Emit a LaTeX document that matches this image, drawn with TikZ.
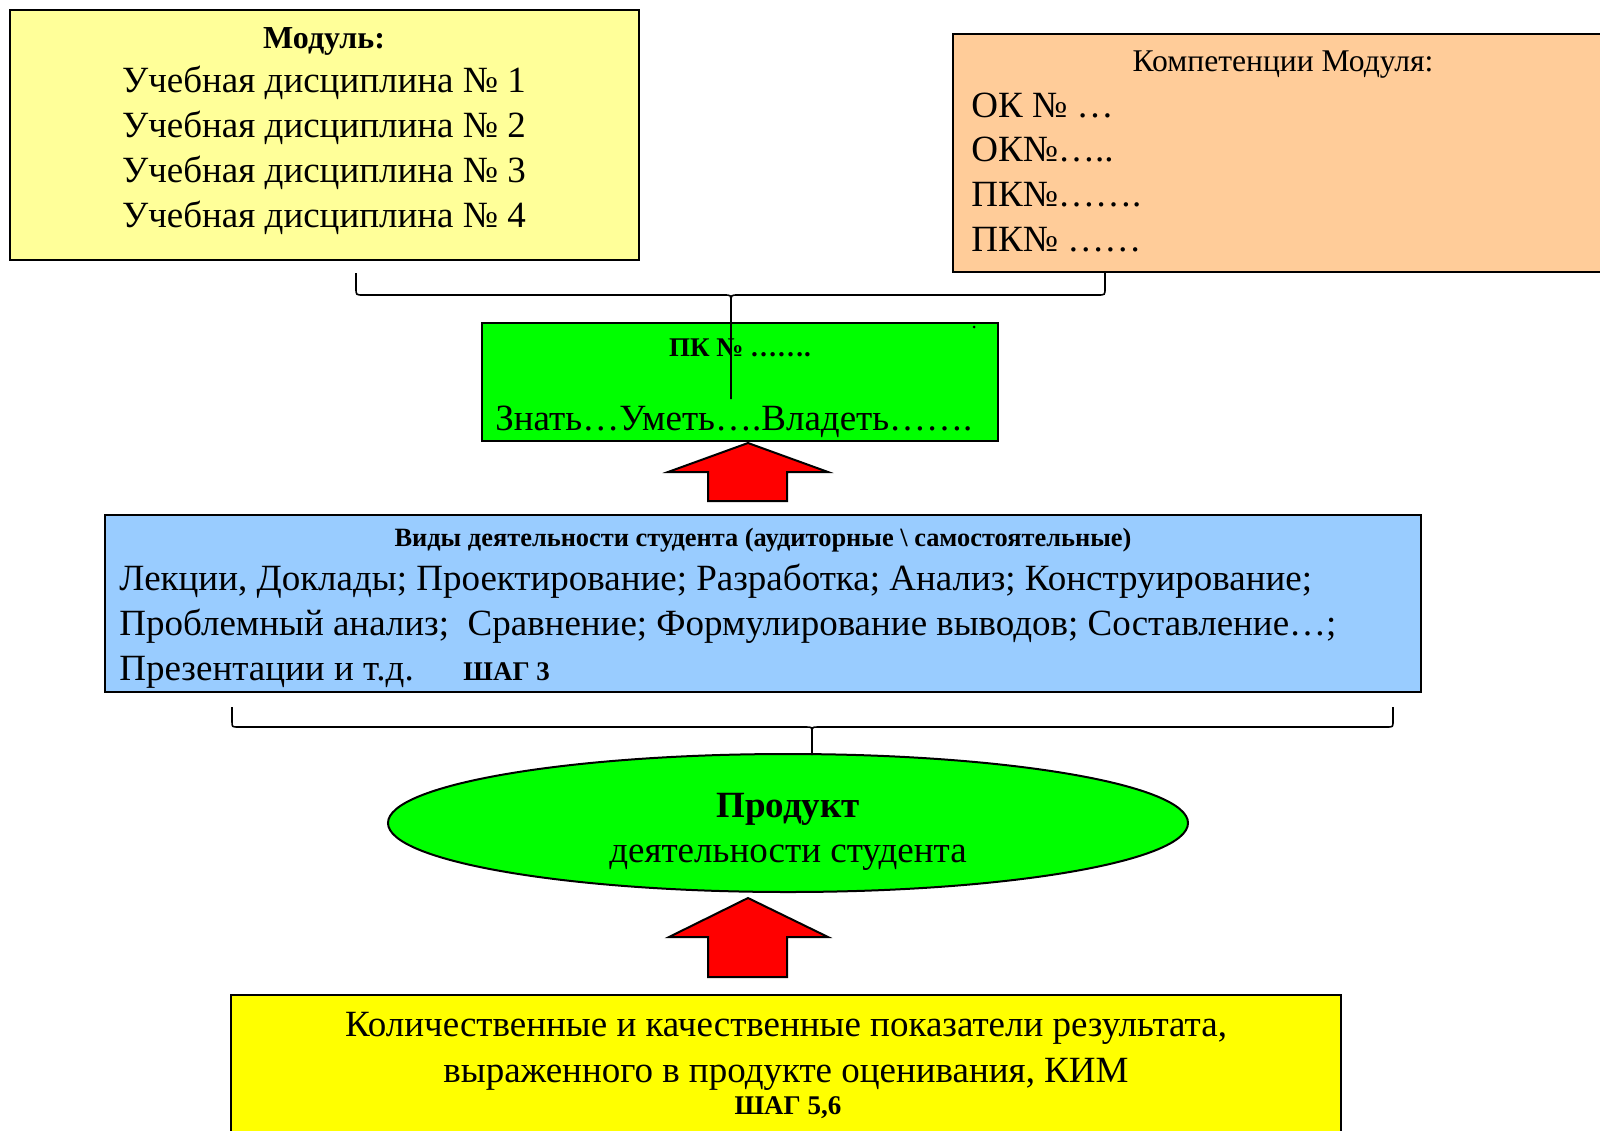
\documentclass[tikz,border=0pt]{standalone}
\usepackage{fontspec}
\setmainfont{Liberation Serif}
\usetikzlibrary{shapes.geometric}

\definecolor{modfill}{HTML}{FFFF99}
\definecolor{kompfill}{HTML}{FFCC99}
\definecolor{pkgreen}{HTML}{00FF00}
\definecolor{vidyblue}{HTML}{99CCFF}
\definecolor{kimyellow}{HTML}{FFFF00}

\begin{document}
\begin{tikzpicture}[x=0.5pt, y=-0.5pt,
  box/.style={draw, line width=1pt, inner sep=0pt, outer sep=0pt, anchor=north west},
  txt/.style={inner sep=0pt, anchor=base, font=\fontsize{18.5}{22}\selectfont},
  ttl/.style={txt, font=\bfseries\fontsize{16}{19}\selectfont},
  sml/.style={txt, font=\bfseries\fontsize{13.5}{16}\selectfont},
  klammer/.style={draw, line width=0.8pt},
  pfeil/.style={draw, line width=1pt, fill=red, line join=miter}]

\useasboundingbox (0,0) rectangle (1600,1130);
\clip (0,0) rectangle (1600,1130);

% boxes
\node[box, fill=modfill, minimum width=314.5pt, minimum height=125pt] (modul) at (10,10) {};
\node[box, fill=kompfill, minimum width=328.5pt, minimum height=119pt] (komp) at (953,34) {};
\node[box, fill=pkgreen, minimum width=258pt, minimum height=59pt] (pk) at (482,323) {};
\node[box, fill=vidyblue, minimum width=658pt, minimum height=88.5pt] (vidy) at (105,515) {};
\node[draw, line width=1pt, ellipse, fill=pkgreen, inner sep=0pt,
  minimum width=400pt, minimum height=69pt] (produkt) at (788,823) {};
\node[box, fill=kimyellow, minimum width=555pt, minimum height=75pt] (kim) at (231,995) {};

% Modul
\node[ttl] (modtitle) at (324,48) {Модуль:};
\foreach \n in {1,...,4}
  \node[txt] (ud\n) at (324,47+45*\n) {Учебная дисциплина № \n};

% Kompetenzen
\node[txt, font=\fontsize{15.8}{18}\selectfont] (komptitle) at (1283,71) {Компетенции Модуля:};
\node[txt, anchor=base west] (ok1) at (971,117) {ОК № …};
\node[txt, anchor=base west] (ok2) at (971,161) {ОК№…..};
\node[txt, anchor=base west] (pk1) at (971,206) {ПК№…….};
\node[txt, anchor=base west] (pk2) at (971,251) {ПК№ ……};

% PK
\node[sml] (pktitle) at (740,356) {ПК № …….};
\node[txt, anchor=base west] (zuv) at (495,430) {Знать…Уметь….Владеть…….};
\fill (974,327) circle[radius=1.5];

% Vidy
\node[sml, font=\bfseries\fontsize{13.2}{16}\selectfont] (vidytitle) at (763,546) {Виды деятельности студента (аудиторные \textbackslash{} самостоятельные)};
\node[txt, anchor=base west] (v1) at (119,590) {Лекции, Доклады; Проектирование; Разработка; Анализ; Конструирование;};
\node[txt, anchor=base west] (v2) at (119,635) {Проблемный анализ;~ Сравнение; Формулирование выводов; Составление…;};
\node[txt, anchor=base west] (v3) at (119,680) {Презентации и т.д.};
\node[sml, anchor=base west] (shag3) at (463,680) {ШАГ 3};

% Produkt
\node[txt, font=\bfseries\fontsize{18.5}{22}\selectfont] (prodtitle) at (788,817) {Продукт};
\node[txt] (prodtext) at (788,862) {деятельности студента};

% KIM
\node[txt] (kim1) at (786,1036) {Количественные и качественные показатели результата,};
\node[txt] (kim2) at (786,1082) {выраженного в продукте оценивания, КИМ};
\node[sml] (shag56) at (788,1114) {ШАГ 5,6};

% braces
\coordinate (spitze1) at (731,399);
\coordinate (spitze2) at (812,755);
\draw[klammer] (356,273) -- (356,288) .. controls (356,295) .. (363,295) -- (724,295)
  .. controls (731,295) .. (731,302) -- (spitze1);
\draw[klammer] (1105,273) -- (1105,288) .. controls (1105,295) .. (1098,295) -- (738,295)
  .. controls (731,295) .. (731,302);
\draw[klammer] (232,707) -- (232,721) .. controls (232,727) .. (238,727) -- (806,727)
  .. controls (812,727) .. (812,733) -- (spitze2);
\draw[klammer] (1393,707) -- (1393,721) .. controls (1393,727) .. (1387,727) -- (818,727)
  .. controls (812,727) .. (812,733);

% arrows
\draw[pfeil] (748,443) -- (828,472) -- (787,472) -- (787,501) -- (708,501) -- (708,472) -- (668,472) -- cycle;
\draw[pfeil] (748,898) -- (828,937) -- (787,937) -- (787,977) -- (708,977) -- (708,937) -- (669,937) -- cycle;
\end{tikzpicture}
\end{document}
